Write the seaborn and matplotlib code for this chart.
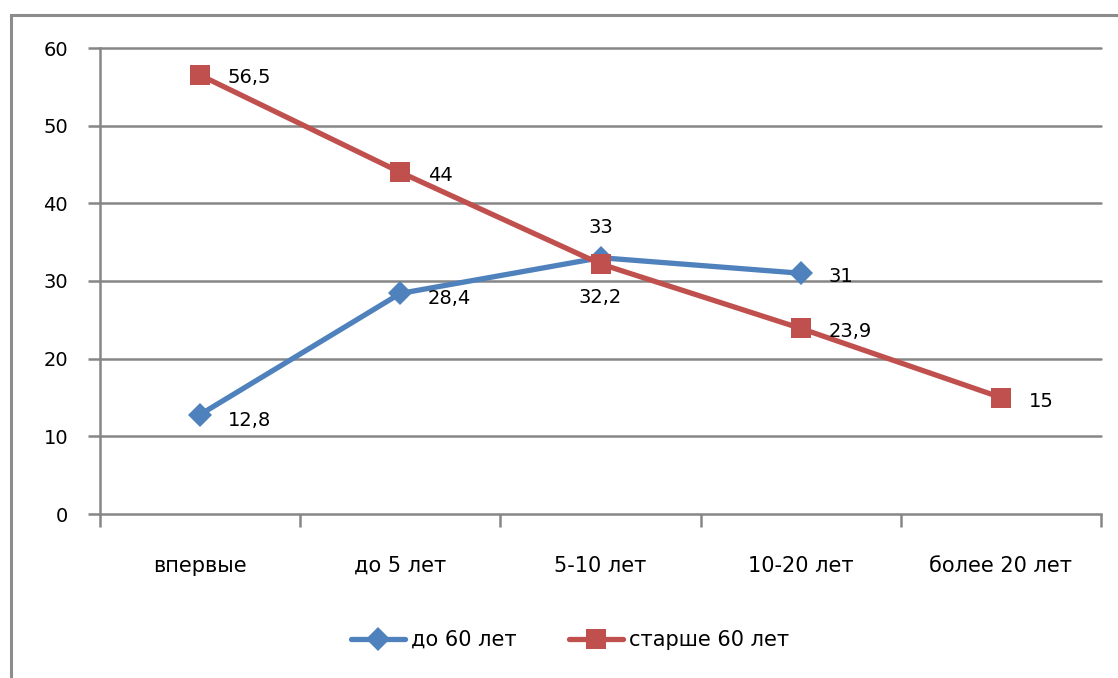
import numpy as np
import pandas as pd
import seaborn as sns
import matplotlib
matplotlib.use("Agg")
import matplotlib.pyplot as plt
from matplotlib.lines import Line2D
from matplotlib.patches import Rectangle

categories = ["впервые", "до 5 лет", "5-10 лет", "10-20 лет", "более 20 лет"]
series_names = ["до 60 лет", "старше 60 лет"]
under_60 = [12.8, 28.4, 33, 31, np.nan]
over_60 = [56.5, 44, 32.2, 23.9, 15]
y_ticks = [0, 10, 20, 30, 40, 50, 60]

colors = {"до 60 лет": "#4F81BD", "старше 60 лет": "#C0504D"}
markers = {"до 60 лет": "D", "старше 60 лет": "s"}

rows = []
for name, vals in zip(series_names, [under_60, over_60]):
    for i, v in enumerate(vals):
        rows.append({"pos": i, "value": v, "series": name})
df = pd.DataFrame(rows).dropna()

sns.set_theme(style="white")
plt.rcParams["font.family"] = ["DejaVu Sans"]
plt.rcParams["text.color"] = "black"
plt.rcParams["xtick.labelcolor"] = "black"
plt.rcParams["ytick.labelcolor"] = "black"

fig = plt.figure(figsize=(11.18, 6.78), dpi=100)
ax = fig.add_axes([100 / 1118, 1 - 514 / 678, 1001 / 1118, 466 / 678])

grid_c = "#868686"
for t in y_ticks[1:]:
    ax.axhline(t, color=grid_c, lw=1.8, zorder=0, clip_on=False)

sns.lineplot(data=df, x="pos", y="value", hue="series", style="series",
             palette=colors, markers=markers, dashes=False, sort=False,
             linewidth=3.8, markersize=14, markeredgewidth=0,
             legend=False, ax=ax, zorder=3)
for ln in ax.lines:
    if ln.get_marker() == "D":
        ln.set_markersize(12)

ax.set_xlim(-0.5, len(categories) - 0.5)
ax.set_ylim(0, 60)
ax.set_yticks(y_ticks)
ax.set_yticklabels([str(t) for t in y_ticks], fontsize=14, color="black")
ax.set_xticks(np.arange(-0.5, len(categories) + 0.5, 1.0))
ax.set_xticklabels([])
ax.set_xticks(np.arange(len(categories)), minor=True)
ax.set_xticklabels(categories, minor=True, fontsize=15, color="black")
ax.tick_params(axis="x", which="major", bottom=True, length=9, width=1.8,
               color=grid_c, direction="out")
ax.tick_params(axis="x", which="minor", bottom=True, length=0, pad=30)
ax.tick_params(axis="y", left=True, length=9, width=1.8, color=grid_c,
               direction="out", pad=14)
ax.set_xlabel("")
ax.set_ylabel("")
for side in ["top", "right"]:
    ax.spines[side].set_visible(False)
for side in ["left", "bottom"]:
    ax.spines[side].set_color(grid_c)
    ax.spines[side].set_linewidth(1.8)

def fmt(v):
    s = f"{v:g}"
    return s.replace(".", ",")

# data labels: (dx, dy) offsets in points
under_offsets = [(20, -4), (20, -4), (0, 22), (20, -2), None]
over_offsets = [(20, -2), (20, -2), (0, -24), (20, -2), (20, -3)]
for vals, offs in [(under_60, under_offsets), (over_60, over_offsets)]:
    for i, v in enumerate(vals):
        if np.isnan(v) or offs[i] is None:
            continue
        dx, dy = offs[i]
        ha = "left" if dx > 0 else "center"
        ax.annotate(fmt(v), (i, v), xytext=(dx, dy), textcoords="offset points",
                    ha=ha, va="center", fontsize=14, color="black", zorder=5)

handles = [Line2D([0], [0], color=colors[n], lw=3.8, marker=markers[n],
                  markersize=12 if markers[n] == "D" else 14, markeredgewidth=0)
           for n in series_names]
fig.legend(handles, series_names, loc="center", bbox_to_anchor=(0.51, 1 - 640 / 678),
           ncol=2, frameon=False, fontsize=15, handlelength=2.6, columnspacing=2.5,
           handletextpad=0.3, labelcolor="black")

# chart frame
fig.patches.append(Rectangle((11 / 1118, -0.05), 1.1, 1 - 15 / 678 + 0.05,
                             transform=fig.transFigure, fill=False,
                             edgecolor="#8c8c8c", lw=2.2, zorder=0))

fig.savefig("out.png", dpi=100)
